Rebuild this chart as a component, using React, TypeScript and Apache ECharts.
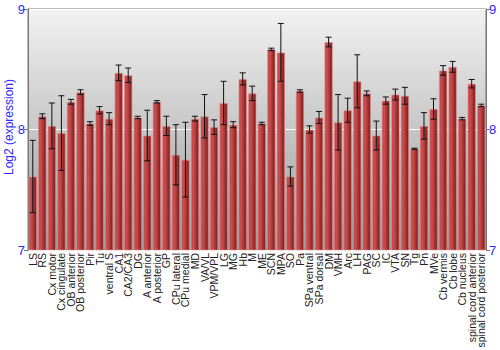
import React, { useEffect, useRef } from "react";
import * as echarts from "echarts";

const categories = [
  "LS", "RS", "Cx motor", "Cx cingulate", "OB anterior", "OB posterior", "Pir", "Tu",
  "ventral S", "CA1", "CA2/CA3", "DG", "A anterior", "A posterior", "GP", "CPu lateral",
  "CPu medial", "MD", "VA/VL", "VPM/VPL", "LG", "MG", "Hb", "M", "ME", "SCN", "MPA", "SO",
  "Pa", "SPa ventral", "SPa dorsal", "DM", "VMH", "Arc", "LH", "PAG", "SC", "IC", "VTA",
  "SN", "Tg", "Pn", "MVe", "Cb vermis", "Cb lobe", "Cb nucleus", "spinal cord anterior",
  "spinal cord posterior",
];

const values = [
  7.61, 8.11, 8.03, 7.97, 8.23, 8.31, 8.05, 8.16,
  8.09, 8.47, 8.45, 8.10, 7.95, 8.23, 8.03, 7.79,
  7.75, 8.09, 8.11, 8.02, 8.22, 8.04, 8.42, 8.30, 8.05, 8.665, 8.64, 7.61,
  8.32, 8.00, 8.10, 8.726, 8.06, 8.16, 8.40, 8.30, 7.95, 8.24, 8.29,
  8.28, 7.84, 8.03, 8.17, 8.49, 8.52, 8.09, 8.38,
  8.20,
];

const errors = [
  0.30, 0.02, 0.19, 0.31, 0.02, 0.02, 0.015, 0.03,
  0.05, 0.065, 0.06, 0.01, 0.21, 0.01, 0.08, 0.25,
  0.31, 0.02, 0.18, 0.06, 0.18, 0.025, 0.05, 0.06, 0.01, 0.01, 0.24, 0.08,
  0.01, 0.03, 0.05, 0.04, 0.23, 0.10, 0.22, 0.02, 0.12, 0.03, 0.045,
  0.07, 0.005, 0.11, 0.085, 0.04, 0.045, 0.01, 0.035,
  0.01,
];

const yTicks = { min: 7, max: 9, interval: 1 };
const yAxisTitle = "Log2 (expression)";

export default function App() {
  const ref = useRef<HTMLDivElement>(null);
  useEffect(() => {
    if (!ref.current) return;
    const chart = echarts.init(ref.current, null, { renderer: "svg" });
    const blue = "#2a2aff";
    const errData = categories.map((_, i) => [i, values[i] - errors[i], values[i] + errors[i]]);
    chart.setOption({
      animation: false,
      graphic: [
        {
          type: "text",
          x: 9,
          y: 127,
          rotation: Math.PI / 2,
          style: {
            text: yAxisTitle,
            fill: blue,
            font: "12px 'Liberation Sans'",
            align: "center",
            verticalAlign: "middle",
          },
        },
      ],
      grid: {
        left: 28,
        right: 14,
        top: 9,
        bottom: 100,
        outerBoundsMode: "none",
        containLabel: false,
        show: true,
        borderColor: "#777",
        borderWidth: 1,
        backgroundColor: new echarts.graphic.LinearGradient(0, 0, 0, 1, [
          { offset: 0, color: "#f2f2f2" },
          { offset: 1, color: "#9a9a9a" },
        ]),
      },
      xAxis: {
        type: "category",
        data: categories,
        boundaryGap: true,
        axisLine: { show: false },
        axisTick: { show: false },
        axisLabel: {
          interval: 0,
          rotate: 90,
          fontSize: 10.5,
          fontFamily: "Liberation Sans",
          color: "#222",
          margin: 3,
        },
      },
      yAxis: [
        {
          type: "value",
          min: yTicks.min,
          max: yTicks.max,
          interval: yTicks.interval,
          axisLine: { show: true, lineStyle: { color: "#777" } },
          axisTick: { show: true, length: 4, lineStyle: { color: "#777" } },
          axisLabel: { color: blue, fontSize: 13, fontFamily: "Liberation Sans", margin: 3 },
          splitLine: { show: true, lineStyle: { color: "#ffffff", width: 1 } },
        },
        {
          type: "value",
          position: "right",
          min: yTicks.min,
          max: yTicks.max,
          interval: yTicks.interval,
          axisLine: { show: true, lineStyle: { color: "#777" } },
          axisTick: { show: true, length: 4, lineStyle: { color: "#777" } },
          axisLabel: { color: blue, fontSize: 13, fontFamily: "Liberation Sans", margin: 3 },
          splitLine: { show: false },
        },
      ],
      series: [
        {
          type: "bar",
          data: values,
          barCategoryGap: "12%",
          itemStyle: {
            color: new echarts.graphic.LinearGradient(0, 0, 1, 0, [
              { offset: 0, color: "#c04444" },
              { offset: 0.3, color: "#cc4d4d" },
              { offset: 1, color: "#7c1a1a" },
            ]),
            borderColor: "rgba(230,140,140,0.6)",
            borderWidth: 1,
          },
        },
        {
          type: "custom",
          data: errData,
          z: 10,
          renderItem: (params: any, api: any) => {
            const x = api.value(0);
            const lo = api.coord([x, api.value(1)]);
            const hi = api.coord([x, api.value(2)]);
            const cap = 3;
            const style = { stroke: "#111", lineWidth: 1 };
            return {
              type: "group",
              children: [
                { type: "line", shape: { x1: hi[0], y1: hi[1], x2: lo[0], y2: lo[1] }, style },
                { type: "line", shape: { x1: hi[0] - cap, y1: hi[1], x2: hi[0] + cap, y2: hi[1] }, style },
                { type: "line", shape: { x1: lo[0] - cap, y1: lo[1], x2: lo[0] + cap, y2: lo[1] }, style },
              ],
            };
          },
        },
      ],
    });
    return () => chart.dispose();
  }, []);
  return <div ref={ref} style={{ width: 500, height: 350, position: "absolute", left: 0, top: 0 }} />;
}
